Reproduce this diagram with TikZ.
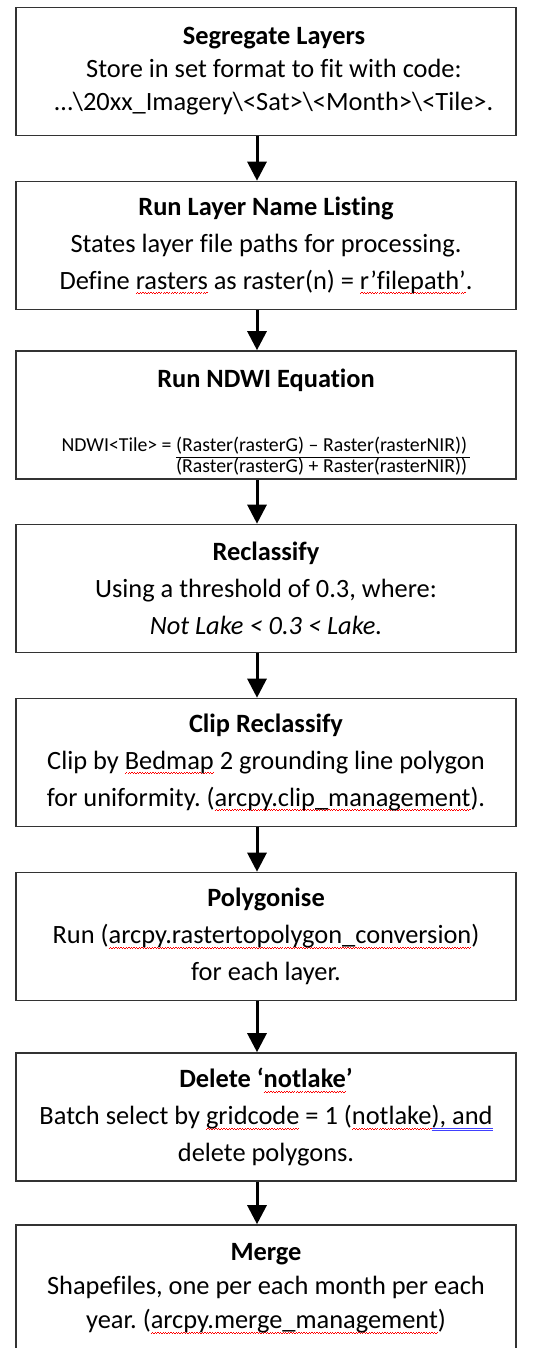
\documentclass[tikz,border=0pt]{standalone}
\usepackage{fontspec}
\setmainfont{Carlito}[Ligatures={TeX,CommonOff}]
\usepackage{xcolor}
\usepackage{tikz}
\usetikzlibrary{positioning, arrows.meta}
\frenchspacing

% Word style spell-check marks
\newcommand\spellmark[1]{\setbox0\hbox{#1}\rlap{\textcolor{red}{\hbox to\wd0{\xleaders\hbox{\rule[-5.4pt]{1.3pt}{1pt}\rule[-4.2pt]{1.3pt}{1pt}}\hfill}}}\box0\relax}
\newcommand\grammark[1]{\setbox0\hbox{#1}\rlap{\textcolor{blue!75}{\rule[-4pt]{\wd0}{0.9pt}\llap{\rule[-6.3pt]{\wd0}{0.9pt}}}}\box0\relax}

\begin{document}
\begin{tikzpicture}[x=1pt, y=-1pt,
    stage/.style={draw=black!80, line width=1.6pt, minimum width=500pt,
      minimum height=128pt, text width=480pt, inner xsep=10pt, inner ysep=0pt,
      align=flush center, font=\fontsize{26.4}{37}\selectfont},
    flow/.style={line width=3pt, -{Triangle[width=19pt,length=19pt]}}]
\clip (0,0) rectangle (533,1348);

\node[stage,
  execute at begin node={\leftskip=16pt plus 1fil\rightskip=0pt plus 1fil\relax}]
  (s1) at (266,71.5) {\textbf{Segregate Layers}\\[-4pt]
  Store in set format to fit with code:\\[-4pt]
  \ldots\textbackslash 20xx\_Imagery\textbackslash<Sat>\textbackslash<Month>\textbackslash<Tile>.};
\node[stage] (s2) at (266,245.5) {\textbf{Run Layer Name Listing}\\
  States layer file paths for processing.\\
  Define \spellmark{rasters} as raster(n) = \spellmark{r’filepath’}.};
\node[stage, text height=20pt, text depth=76pt] (s3) at (266,415) {\textbf{Run NDWI Equation}\\[27pt]
  {\fontsize{19.8}{19}\selectfont\arrayrulewidth=1.2pt NDWI<Tile> = \begin{tabular}[t]{@{}c@{\,}}
    (Raster(rasterG) – Raster(rasterNIR))\\ \hline
    (Raster(rasterG) + Raster(rasterNIR))\end{tabular}}};
\node[stage] (s4) at (266,588.5) {\textbf{Reclassify}\\
  Using a threshold of 0.3, where:\\
  \textit{Not Lake < 0.3 < Lake.}};
\node[stage] (s5) at (266,762.5) {\textbf{Clip Reclassify}\\
  Clip by \spellmark{Bedmap} 2 grounding line polygon\\
  for uniformity. (\spellmark{arcpy.clip\_management}).};
\node[stage] (s6) at (266,936.5) {\textbf{Polygonise}\\
  Run (\spellmark{arcpy.rastertopolygon\_conversion})\\
  for each layer.};
\node[stage] (s7) at (266,1117) {\textbf{Delete ‘\spellmark{notlake}’}\\
  Batch select by \spellmark{gridcode} = 1 (\spellmark{notlake}\grammark{), and}\\
  delete polygons.};
\node[stage] (s8) at (266,1289) {\textbf{Merge}\\[-3pt]
  Shapefiles, one per each month per each\\[-3pt]
  year. (\spellmark{arcpy.merge\_management})};

\draw[flow] ([xshift=-9pt]s1.south) -- ([xshift=-9pt]s2.north);
\draw[flow] ([xshift=-9pt]s2.south) -- ([xshift=-9pt]s3.north);
\draw[flow] ([xshift=-9pt]s3.south) -- ([xshift=-9pt]s4.north);
\draw[flow] ([xshift=-9pt]s4.south) -- ([xshift=-9pt]s5.north);
\draw[flow] ([xshift=-9pt]s5.south) -- ([xshift=-9pt]s6.north);
\draw[flow] ([xshift=-9pt]s6.south) -- ([xshift=-9pt]s7.north);
\draw[flow] ([xshift=-9pt]s7.south) -- ([xshift=-9pt]s8.north);
\end{tikzpicture}
\end{document}
